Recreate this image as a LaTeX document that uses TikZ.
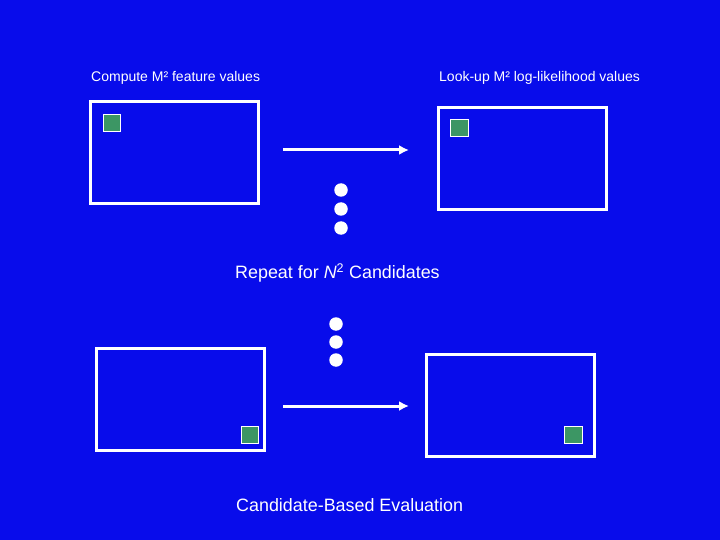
\documentclass[tikz,border=0pt]{standalone}
\usepackage{fontspec}
\setmainfont{Liberation Sans}
\usetikzlibrary{arrows.meta}
\definecolor{bg}{RGB}{8,12,235}
\definecolor{gr}{RGB}{60,150,100}
\begin{document}
\begin{tikzpicture}[x=1pt,y=-1pt,
  frame/.style={draw=white,line width=3pt},
  sq/.style={draw=white,fill=gr,line width=1pt},
  arr/.style={draw=white,line width=3pt,-{Latex[length=10pt,width=10pt]}},
  dot/.style={circle,fill=white,inner sep=0pt,minimum size=13.5pt},
  small/.style={text=white,font=\fontsize{14}{16}\selectfont,inner sep=0pt,anchor=west},
  big/.style={text=white,font=\fontsize{17.9}{20}\selectfont,inner sep=0pt,anchor=west}]
\fill[bg] (0,0) rectangle (720,540);
\useasboundingbox (0,0) rectangle (720,540);
\draw[frame] (90,102) rectangle (258,204);
\draw[frame] (438,108) rectangle (606,210);
\draw[frame] (96,348) rectangle (264,450);
\draw[frame] (426,354) rectangle (594,456);
\draw[sq] (103,115) rectangle (120,132);
\draw[sq] (450,120) rectangle (468,137);
\draw[sq] (241,426) rectangle (258,443);
\draw[sq] (564,426) rectangle (582,443);
\coordinate (a1) at (283,150); \coordinate (a2) at (409,150);
\coordinate (b1) at (283,406); \coordinate (b2) at (409,406);
\draw[arr] (a1) -- (a2);
\draw[arr] (b1) -- (b2);
\node[dot] (d1) at (341,190) {}; \node[dot] (d2) at (341,209) {}; \node[dot] (d3) at (341,228) {};
\node[dot] (e1) at (336,324) {}; \node[dot] (e2) at (336,342) {}; \node[dot] (e3) at (336,360) {};
\node[small] (t1) at (91,78) {Compute M² feature values};
\node[small] (t2) at (439,78) {Look-up M² log-likelihood values};
\node[big] (t3) at (235,273) {Repeat for \textit{N}\textsuperscript{2} Candidates};
\node[big] (t4) at (236,505) {Candidate-Based Evaluation};
\end{tikzpicture}
\end{document}
